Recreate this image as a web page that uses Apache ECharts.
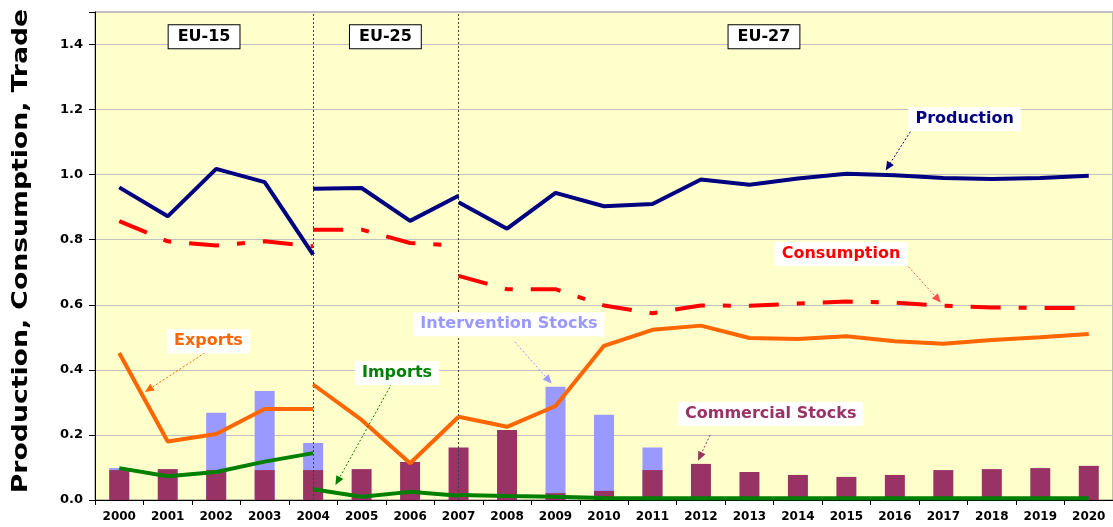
<!DOCTYPE html>
<html>
<head>
<meta charset="utf-8">
<script src="https://cdn.jsdelivr.net/npm/echarts@6/dist/echarts.min.js"></script>
<style>
html,body{margin:0;padding:0;background:#fff;}
#c{width:1113px;height:527px;}
</style>
</head>
<body>
<div id="c"></div>
<script>
const years = ['2000','2001','2002','2003','2004','2005','2006','2007','2008','2009','2010','2011','2012','2013','2014','2015','2016','2017','2018','2019','2020'];
const yTicks = [0, 0.2, 0.4, 0.6, 0.8, 1.0, 1.2, 1.4];

// Stocks (bars)
const interventionStocks = [0.098, null, 0.268, 0.335, 0.175, null, null, null, null, 0.348, 0.262, 0.161, null, null, null, null, null, null, null, null, null];
const commercialStocks  = [0.092, 0.095, 0.092, 0.092, 0.092, 0.095, 0.117, 0.161, 0.215, 0.021, 0.028, 0.092, 0.111, 0.086, 0.077, 0.071, 0.077, 0.092, 0.095, 0.098, 0.105];

// Lines per period (EU-15: 2000-2004, EU-25: 2004-2007, EU-27: 2007-2020)
const productionEU15 = [0.961, 0.872, 1.018, 0.977, 0.754];
const productionEU25 = [0.957, 0.959, 0.858, 0.935];
const productionEU27 = [0.915, 0.834, 0.944, 0.903, 0.910, 0.985, 0.969, 0.988, 1.003, 0.998, 0.990, 0.987, 0.990, 0.997];

const consumptionEU15 = [0.857, 0.795, 0.782, 0.795, 0.780];
const consumptionEU25 = [0.831, 0.831, 0.790, 0.782];
const consumptionEU27 = [0.689, 0.648, 0.648, 0.598, 0.574, 0.598, 0.597, 0.604, 0.610, 0.607, 0.597, 0.592, 0.590, 0.590];

const exportsEU15 = [0.452, 0.180, 0.203, 0.280, 0.280];
const exportsEU25 = [0.355, 0.246, 0.113, 0.256];
const exportsEU27 = [0.256, 0.225, 0.289, 0.474, 0.523, 0.536, 0.498, 0.495, 0.503, 0.488, 0.480, 0.492, 0.500, 0.510];

const importsEU15 = [0.098, 0.073, 0.086, 0.118, 0.144];
const importsEU25 = [0.033, 0.010, 0.025, 0.013];
const importsEU27 = [0.015, 0.012, 0.010, 0.006, 0.005, 0.005, 0.005, 0.005, 0.005, 0.005, 0.005, 0.005, 0.005, 0.005];

const periodStarts = {EU15: 0, EU25: 4, EU27: 7};
const periodLabels = ['EU-15', 'EU-25', 'EU-27'];
const dividers = ['2004', '2007'];

function seg(start, vals) {
  const a = new Array(years.length).fill(null);
  vals.forEach((v, i) => { a[start + i] = v; });
  return a;
}

const FONT = 'DejaVu Sans';
const C_PROD = '#000080', C_CONS = '#FF0000', C_EXP = '#FF6600', C_IMP = '#008000', C_INT = '#9999FF', C_COM = '#993366';

function lineSeries(name, start, vals, color, type) {
  return {
    name: name, type: 'line', data: seg(start, vals), symbol: 'none', connectNulls: false,
    lineStyle: {color: color, width: 4, type: type || 'solid', cap: 'butt'},
    itemStyle: {color: color}, z: 5
  };
}
const dashDot = [30, 18, 8, 18];

const chart = echarts.init(document.getElementById('c'), null, {renderer: 'canvas'});
const option = {
  animation: false,
  backgroundColor: '#ffffff',
  textStyle: {fontFamily: FONT},
  grid: {left: 95, top: 12, width: 1026, height: 488, show: true, backgroundColor: '#FFFFCC', borderColor: '#808080', borderWidth: 1},
  xAxis: {
    type: 'category', data: years, boundaryGap: true,
    axisLine: {lineStyle: {color: '#000', width: 1}},
    axisTick: {show: true, length: 5, lineStyle: {color: '#000'}},
    axisLabel: {interval: 0, color: '#000', fontWeight: 'bold', fontSize: 12, fontFamily: FONT, margin: 11},
    splitLine: {show: false}
  },
  yAxis: {
    type: 'value', min: 0, max: 1.5, interval: 0.2,
    axisLine: {show: true, lineStyle: {color: '#000', width: 1}},
    axisTick: {show: true, length: 6, lineStyle: {color: '#000'}},
    axisLabel: {color: '#000', fontWeight: 'bold', fontSize: 13, fontFamily: FONT, margin: 12,
      formatter: v => (yTicks.some(t => Math.abs(t - v) < 1e-6) ? v.toFixed(1) : '')},
    splitLine: {show: true, lineStyle: {color: '#C0C0C0', width: 1}}
  },
  series: [
    {name: 'Intervention Stocks', type: 'bar', data: interventionStocks, barWidth: 20, barGap: '-100%',
     itemStyle: {color: C_INT}, z: 2,
     markLine: {silent: true, symbol: ['none', 'none'], label: {show: false},
       lineStyle: {color: '#404040', type: [2, 2], width: 1},
       data: dividers.map(d => ({xAxis: d}))}},
    {name: 'Commercial Stocks', type: 'bar', data: commercialStocks, barWidth: 20, barGap: '-100%',
     itemStyle: {color: C_COM}, z: 3},
    lineSeries('Imports EU-15', periodStarts.EU15, importsEU15, C_IMP),
    lineSeries('Imports EU-25', periodStarts.EU25, importsEU25, C_IMP),
    lineSeries('Imports EU-27', periodStarts.EU27, importsEU27, C_IMP),
    lineSeries('Exports EU-15', periodStarts.EU15, exportsEU15, C_EXP),
    lineSeries('Exports EU-25', periodStarts.EU25, exportsEU25, C_EXP),
    lineSeries('Exports EU-27', periodStarts.EU27, exportsEU27, C_EXP),
    lineSeries('Consumption EU-15', periodStarts.EU15, consumptionEU15, C_CONS, dashDot),
    lineSeries('Consumption EU-25', periodStarts.EU25, consumptionEU25, C_CONS, dashDot),
    lineSeries('Consumption EU-27', periodStarts.EU27, consumptionEU27, C_CONS, dashDot),
    lineSeries('Production EU-15', periodStarts.EU15, productionEU15, C_PROD),
    lineSeries('Production EU-25', periodStarts.EU25, productionEU25, C_PROD),
    lineSeries('Production EU-27', periodStarts.EU27, productionEU27, C_PROD)
  ]
};
chart.setOption(option);

// annotation helpers in data space (fractional category index, value)
function P(ix, v) {
  const x0 = chart.convertToPixel({xAxisIndex: 0}, years[0]);
  const x1 = chart.convertToPixel({xAxisIndex: 0}, years[1]);
  return [x0 + ix * (x1 - x0), chart.convertToPixel({yAxisIndex: 0}, v)];
}
function label(text, ix, v, color, boxed) {
  const p = P(ix, v);
  return {type: 'text', z: 50, style: {
    text: text, x: p[0], y: p[1], fill: color, font: 'bold 16px "' + FONT + '"',
    align: 'center', verticalAlign: 'middle', textAlign: 'center', textVerticalAlign: 'middle',
    backgroundColor: '#ffffff', padding: boxed ? [4, 9, 3, 9] : [4, 7, 4, 7],
    borderColor: boxed ? '#000000' : null, borderWidth: boxed ? 1 : 0
  }};
}
function arrow(ix0, v0, ix1, v1, color) {
  const a = P(ix0, v0), b = P(ix1, v1);
  const dx = b[0] - a[0], dy = b[1] - a[1], L = Math.sqrt(dx * dx + dy * dy);
  const ux = dx / L, uy = dy / L, hl = 9, hw = 4;
  const bx = b[0] - ux * hl, by = b[1] - uy * hl;
  return [
    {type: 'line', z: 49, shape: {x1: a[0], y1: a[1], x2: bx, y2: by},
     style: {stroke: color, lineWidth: 1, lineDash: [2, 2]}},
    {type: 'polygon', z: 49, shape: {points: [[b[0], b[1]], [bx - uy * hw, by + ux * hw], [bx + uy * hw, by - ux * hw]]},
     style: {fill: color}}
  ];
}

const graphics = [];
// period labels
graphics.push(label(periodLabels[0], 1.75, 1.424, '#000000', true));
graphics.push(label(periodLabels[1], 5.49, 1.424, '#000000', true));
graphics.push(label(periodLabels[2], 13.3, 1.424, '#000000', true));
// series annotations
graphics.push(label('Production', 17.44, 1.171, C_PROD));
graphics.push(...arrow(16.32, 1.132, 15.81, 1.013, C_PROD));
graphics.push(label('Consumption', 14.89, 0.756, C_CONS));
graphics.push(...arrow(16.28, 0.717, 16.95, 0.607, '#FF5050'));
graphics.push(label('Exports', 1.84, 0.488, C_EXP));
graphics.push(...arrow(1.76, 0.452, 0.53, 0.332, C_EXP));
graphics.push(label('Imports', 5.73, 0.39, C_IMP));
graphics.push(...arrow(5.62, 0.357, 4.46, 0.046, C_IMP));
graphics.push(label('Intervention Stocks', 8.04, 0.54, C_INT));
graphics.push(...arrow(8.16, 0.486, 8.92, 0.358, C_INT));
graphics.push(label('Commercial Stocks', 13.44, 0.264, C_COM));
graphics.push(...arrow(12.19, 0.2, 11.94, 0.121, C_COM));
// y-axis title
graphics.push({type: 'text', x: 22, y: 251, rotation: Math.PI / 2, scaleX: 1.27, scaleY: 1, z: 50,
  style: {text: 'Production, Consumption, Trade', fill: '#000', font: 'bold 21px "' + FONT + '"',
    align: 'center', verticalAlign: 'middle', textAlign: 'center', textVerticalAlign: 'middle'}});

chart.setOption({graphic: {elements: graphics}});
</script>
</body>
</html>
